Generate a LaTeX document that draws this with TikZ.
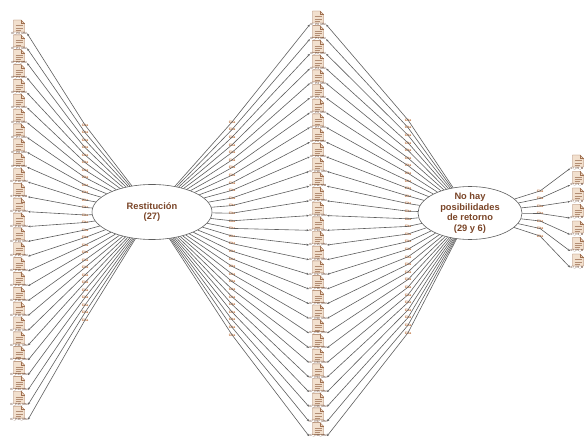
\documentclass[tikz,border=0pt]{standalone}
\usepackage{fontspec}
\setmainfont{Liberation Sans}
\usetikzlibrary{shapes.geometric,arrows.meta}
\definecolor{lnk}{HTML}{5E5E5E}
\definecolor{txtbrown}{HTML}{7A4528}
\definecolor{docfill}{HTML}{F2E0CE}
\definecolor{docedge}{HTML}{A07050}
\definecolor{quot}{HTML}{B8662E}
\begin{document}
\begin{tikzpicture}[x=1pt,y=-1pt,
  link/.style={draw=lnk,line width=0.6pt},
  doctip/.style={{Stealth[length=2.4pt,width=2pt]}-},
  doclabel/.style={font=\fontsize{3}{3}\selectfont,text=txtbrown!70!black,inner sep=0.3pt},
  quotelabel/.style={font=\bfseries\fontsize{3.4}{3.4}\selectfont,text=quot,inner sep=0.3pt},
  codeell/.style={ellipse,draw=lnk,line width=0.6pt,fill=white,inner sep=0pt},
  codetext/.style={font=\bfseries\fontsize{9.3}{10.6}\selectfont,text=txtbrown,align=center},
  docicon/.pic={
    \path[fill=docfill,draw=docedge,line width=0.45pt] (-5.5,-6) -- (2,-6) -- (5.5,-2.5) -- (5.5,6) -- (-5.5,6) -- cycle;
    \draw[docedge,line width=0.3pt] (2,-6) -- (2,-2.5) -- (5.5,-2.5);
    \draw[docedge!80,line width=0.4pt] (-3.5,-0.5) -- (3.5,-0.5) (-3.5,1.8) -- (3.5,1.8) (-3.5,4) -- (1.5,4);
  }]
\useasboundingbox (0,0) rectangle (587,441);

% code ellipses
\node[codeell,minimum width=120pt,minimum height=55pt] (rest) at (152,212) {};
\node[codeell,minimum width=104pt,minimum height=53pt] (nohay) at (470,213) {};

% left column
\foreach \i in {0,...,26}{
  \pic at (19,{26+14.85*\i}) {docicon};
  \node[doclabel] (L\i) at (19,{33.5+14.85*\i}) {07\_P\i\_MM};
  \node[quotelabel] (QL\i) at (85,{125+7.5*\i}) {Cita};
  \draw[link,doctip] (L\i.east) -- (QL\i.center) -- (rest);
}

% middle column
\foreach \i in {0,...,28}{
  \pic at (318,{17+14.7*\i}) {docicon};
  \node[doclabel] (M\i) at (318,{24.5+14.7*\i}) {07\_P\i\_MM};
  \node[quotelabel] (QA\i) at (232,{122+7.6*\i}) {Cita};
  \node[quotelabel] (QB\i) at (408,{120+7.6*\i}) {Cita};
  \draw[link,doctip] (M\i.west) -- (QA\i.center) -- (rest);
  \draw[link,doctip] (M\i.east) -- (QB\i.center) -- (nohay);
}

% right column
\foreach \i in {0,...,6}{
  \pic at (578,{161+16.5*\i}) {docicon};
  \node[doclabel] (R\i) at (577,{168.5+16.5*\i}) {07\_P\i\_M};
  \node[quotelabel] (QR\i) at (540,{191+7.5*\i}) {Cita};
  \draw[link,doctip] (R\i.west) -- (QR\i.center) -- (nohay);
}

\node[codetext] at (rest) {Restitución\\(27)};
\node[codetext] at (nohay) {No hay\\posibilidades\\de retorno\\(29 y 6)};
\end{tikzpicture}
\end{document}
